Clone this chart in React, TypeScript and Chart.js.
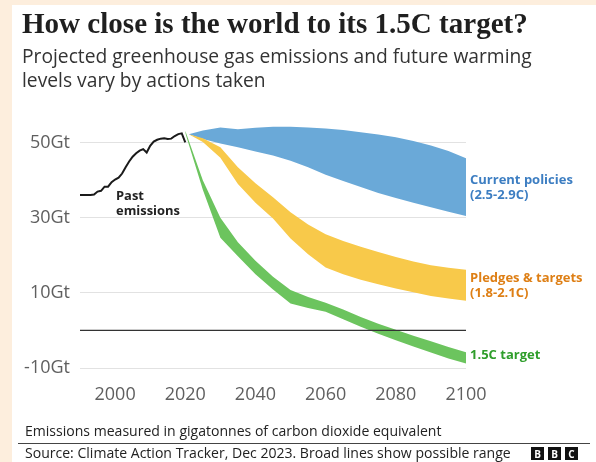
import React, { useEffect, useRef } from 'react';
import { Chart, registerables } from 'chart.js';

Chart.register(...registerables);

// ---------- DATA ----------
const pastYears = [1990, 1991, 1992, 1993, 1994, 1995, 1996, 1997, 1998, 1999, 2000, 2001, 2002, 2003, 2004, 2005, 2006, 2007, 2008, 2009, 2010, 2011, 2012, 2013, 2014, 2015, 2016, 2017, 2018, 2019, 2020];
const pastValues = [36.1, 36.1, 36.1, 36.1, 36.2, 37.0, 37.2, 38.3, 38.3, 39.5, 40.2, 40.7, 41.8, 43.5, 45.0, 46.3, 47.2, 47.9, 48.3, 47.4, 49.2, 50.3, 50.8, 51.1, 51.2, 51.0, 51.1, 51.8, 52.3, 52.5, 50.1];

const projYears = [2021, 2025, 2030, 2035, 2040, 2045, 2050, 2055, 2060, 2065, 2070, 2075, 2080, 2085, 2090, 2095, 2100];
const currentUpper = [52.3, 53.3, 54.1, 53.6, 54.0, 54.3, 54.3, 54.1, 53.8, 53.4, 52.8, 52.2, 51.5, 50.5, 49.3, 47.8, 45.9];
const currentLower = [52.3, 51.0, 49.8, 48.8, 47.7, 46.6, 45.2, 43.5, 41.5, 39.8, 38.2, 36.6, 35.3, 34.0, 32.8, 31.6, 30.5];
const pledgeUpper = [52.3, 51.2, 48.8, 43.5, 39.2, 35.5, 31.5, 28.2, 25.6, 23.8, 22.3, 20.9, 19.6, 18.4, 17.4, 16.7, 16.2];
const pledgeLower = [52.3, 50.2, 46.0, 39.0, 34.0, 29.8, 24.5, 20.3, 16.8, 15.0, 13.5, 12.3, 11.2, 10.2, 9.2, 8.5, 7.9];

const targetYears = [2020, 2025, 2030, 2035, 2040, 2045, 2050, 2055, 2060, 2065, 2070, 2075, 2080, 2085, 2090, 2095, 2100];
const targetUpper = [53.2, 40.0, 30.0, 23.5, 18.6, 14.3, 10.8, 8.9, 7.4, 5.6, 3.6, 1.8, 0.2, -1.4, -2.9, -4.4, -5.8];
const targetLower = [52.6, 37.5, 24.7, 19.8, 15.0, 10.9, 7.2, 6.0, 5.0, 3.0, 1.0, -0.9, -2.6, -4.3, -5.9, -7.5, -8.8];

const zeroYears = [1990, 2100];
const zeroValues = [0, 0];

const xTickValues = [2000, 2020, 2040, 2060, 2080, 2100];
const yTickValues = [-10, 10, 30, 50];

const titleText = 'How close is the world to its 1.5C target?';
const subtitleLines = ['Projected greenhouse gas emissions and future warming', 'levels vary by actions taken'];
const noteText = 'Emissions measured in gigatonnes of carbon dioxide equivalent';
const sourceText = 'Source: Climate Action Tracker, Dec 2023. Broad lines show possible range';
const currentLabel = ['Current policies', '(2.5-2.9C)'];
const pledgeLabel = ['Pledges & targets', '(1.8-2.1C)'];
const targetLabel = ['1.5C target'];
const pastLabel = ['Past', 'emissions'];

// ---------- STYLE ----------
const PEACH = '#fdeedd';
const BLUE = '#6aa9d8';
const YELLOW = '#f8c94a';
const GREEN = '#6cc45e';
const BLUE_TEXT = '#3d7ec2';
const ORANGE_TEXT = '#de7f15';
const GREEN_TEXT = '#2f9e2b';
const SANS = '"Open Sans", "Noto Sans", sans-serif';
const SERIF = '"Liberation Serif", serif';

const pts = (xs: number[], ys: number[]) => xs.map((x, i) => ({ x, y: ys[i] }));

function fitSize(ctx: CanvasRenderingContext2D, text: string, weight: string, family: string, target: number) {
  ctx.font = `${weight} 100px ${family}`;
  const w = ctx.measureText(text).width;
  return (100 * target) / w;
}

const framePlugin = {
  id: 'frame',
  beforeDraw(chart: any) {
    const ctx = chart.ctx as CanvasRenderingContext2D;
    ctx.save();
    ctx.fillStyle = PEACH;
    ctx.fillRect(0, 0, chart.width, chart.height);
    ctx.fillStyle = '#ffffff';
    ctx.fillRect(12, 5, chart.width - 12, chart.height - 5);
    ctx.restore();
  },
  afterDraw(chart: any) {
    const ctx = chart.ctx as CanvasRenderingContext2D;
    const area = chart.chartArea;
    ctx.save();
    ctx.textBaseline = 'alphabetic';
    ctx.textAlign = 'left';

    // Title
    let s = fitSize(ctx, titleText, 'bold', SERIF, 506);
    ctx.font = `bold ${s}px ${SERIF}`;
    ctx.fillStyle = '#1f1f1f';
    ctx.fillText(titleText, 22, 33);

    // Subtitle
    s = fitSize(ctx, subtitleLines[0], 'normal', SANS, 510);
    ctx.font = `normal ${s}px ${SANS}`;
    ctx.fillStyle = '#333333';
    ctx.fillText(subtitleLines[0], 22, 63);
    ctx.fillText(subtitleLines[1], 22, 87);

    // Past emissions
    s = fitSize(ctx, pastLabel[1], 'bold', SANS, 64);
    ctx.font = `bold ${s}px ${SANS}`;
    ctx.fillStyle = '#222222';
    ctx.fillText(pastLabel[0], 116, 200);
    ctx.fillText(pastLabel[1], 116, 215);

    // Right labels
    const lx = area.right + 4;
    s = fitSize(ctx, currentLabel[0], 'bold', SANS, 103);
    ctx.font = `bold ${s}px ${SANS}`;
    ctx.fillStyle = BLUE_TEXT;
    ctx.fillText(currentLabel[0], lx, 184);
    ctx.fillText(currentLabel[1], lx, 199);
    ctx.fillStyle = ORANGE_TEXT;
    ctx.fillText(pledgeLabel[0], lx, 282);
    ctx.fillText(pledgeLabel[1], lx, 297);
    ctx.fillStyle = GREEN_TEXT;
    ctx.fillText(targetLabel[0], lx, 359);

    // Footer
    s = fitSize(ctx, noteText, 'normal', SANS, 417);
    ctx.font = `normal ${s}px ${SANS}`;
    ctx.fillStyle = '#222222';
    ctx.fillText(noteText, 25, 436);
    ctx.strokeStyle = '#444444';
    ctx.lineWidth = 1;
    ctx.beginPath();
    ctx.moveTo(18, 443.5);
    ctx.lineTo(590, 443.5);
    ctx.stroke();
    ctx.fillText(sourceText, 25, 458);

    // BBC blocks
    const letters = ['B', 'B', 'C'];
    ctx.font = `bold 10px ${SANS}`;
    ctx.textAlign = 'center';
    letters.forEach((l, i) => {
      const bx = 531 + i * 17;
      ctx.fillStyle = '#111111';
      ctx.fillRect(bx, 447, 13, 13);
      ctx.fillStyle = '#ffffff';
      ctx.fillText(l, bx + 6.5, 457.5);
    });
    ctx.restore();
  },
};

export default function App() {
  const ref = useRef<HTMLCanvasElement | null>(null);

  useEffect(() => {
    if (!ref.current) return;
    const chart = new Chart(ref.current, {
      type: 'line',
      data: {
        datasets: [
          {
            data: pts(zeroYears, zeroValues),
            borderColor: '#333333',
            borderWidth: 1.2,
            fill: false,
          },
          {
            data: pts(pastYears, pastValues),
            borderColor: '#1a1a1a',
            borderWidth: 2,
            fill: false,
          },
          {
            data: pts(targetYears, targetUpper),
            borderColor: 'rgba(0,0,0,0)',
            borderWidth: 0,
            backgroundColor: GREEN,
            fill: '+1',
          },
          {
            data: pts(targetYears, targetLower),
            borderColor: 'rgba(0,0,0,0)',
            borderWidth: 0,
            fill: false,
          },
          {
            data: pts(projYears, pledgeUpper),
            borderColor: 'rgba(0,0,0,0)',
            borderWidth: 0,
            backgroundColor: YELLOW,
            fill: '+1',
          },
          {
            data: pts(projYears, pledgeLower),
            borderColor: 'rgba(0,0,0,0)',
            borderWidth: 0,
            fill: false,
          },
          {
            data: pts(projYears, currentUpper),
            borderColor: 'rgba(0,0,0,0)',
            borderWidth: 0,
            backgroundColor: BLUE,
            fill: '+1',
          },
          {
            data: pts(projYears, currentLower),
            borderColor: 'rgba(0,0,0,0)',
            borderWidth: 0,
            fill: false,
          },
        ],
      },
      options: {
        animation: false,
        responsive: false,
        maintainAspectRatio: false,
        layout: { padding: { left: 0, right: 130, top: 124, bottom: 54 } },
        elements: { point: { radius: 0 }, line: { tension: 0 } },
        plugins: { legend: { display: false }, tooltip: { enabled: false } },
        scales: {
          x: {
            type: 'linear',
            min: 1990,
            max: 2100,
            afterBuildTicks: (scale: any) => {
              scale.ticks = xTickValues.map((v) => ({ value: v }));
            },
            afterFit: (scale: any) => {
              scale.height = 40;
            },
            grid: { display: false },
            border: { display: false },
            ticks: {
              color: '#5f5f5f',
              font: { family: SANS, size: 18 },
              padding: 8,
              maxRotation: 0,
              autoSkip: false,
              callback: (v: any) => String(v),
            },
          },
          y: {
            type: 'linear',
            min: -10,
            max: 55,
            afterBuildTicks: (scale: any) => {
              scale.ticks = yTickValues.map((v) => ({ value: v }));
            },
            afterFit: (scale: any) => {
              scale.width = 80;
            },
            grid: { color: '#e2e2e2', lineWidth: 1, drawTicks: false },
            border: { display: false },
            ticks: {
              color: '#5f5f5f',
              font: { family: SANS, size: 18 },
              padding: 10,
              callback: (v: any) => `${v}Gt`,
            },
          },
        },
      },
      plugins: [framePlugin],
    } as any);
    return () => chart.destroy();
  }, []);

  return (
    <div style={{ position: 'fixed', left: 0, top: 0, width: 596, height: 462, background: PEACH }}>
      <canvas ref={ref} width={596} height={462} style={{ display: 'block', width: 596, height: 462 }} />
    </div>
  );
}
